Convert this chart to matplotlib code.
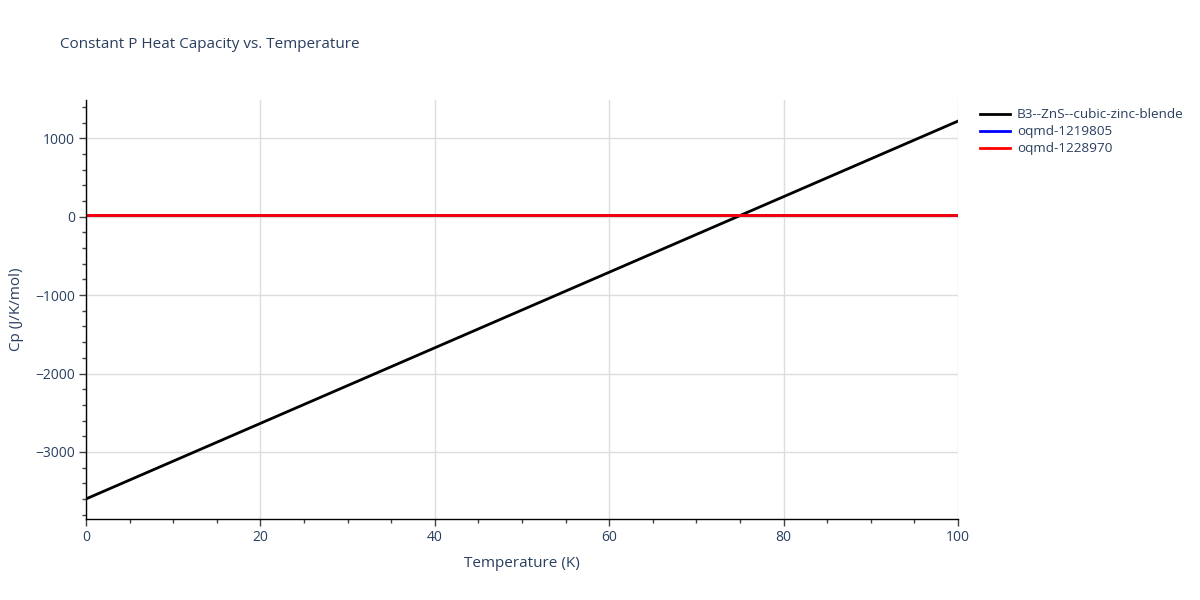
import matplotlib
matplotlib.use('Agg')
import matplotlib.pyplot as plt
from matplotlib.ticker import MultipleLocator

# values
temps = [0, 20, 40, 60, 80, 100]
cp_zns = [-3600, -2636, -1672, -708, 256, 1220]
cp_1219805 = [25, 25, 25, 25, 25, 25]
cp_1228970 = [25, 25, 25, 25, 25, 25]

txt = '#2a3f5f'
plt.rcParams['font.family'] = ['Open Sans', 'DejaVu Sans']

fig = plt.figure(figsize=(12, 6), dpi=100)
ax = fig.add_axes([86/1200, 1-519/600, (958-86)/1200, (519-100)/600])

ax.plot(temps, cp_zns, color='black', lw=2, label='B3--ZnS--cubic-zinc-blende')
ax.plot(temps, cp_1219805, color='blue', lw=2, label='oqmd-1219805')
ax.plot(temps, cp_1228970, color='red', lw=2, label='oqmd-1228970')

ax.set_xlim(0, 100)
ax.set_ylim(-3856, 1489)
ax.xaxis.set_major_locator(MultipleLocator(20))
ax.xaxis.set_minor_locator(MultipleLocator(5))
ax.yaxis.set_major_locator(MultipleLocator(1000))
ax.yaxis.set_minor_locator(MultipleLocator(200))
ax.yaxis.set_major_formatter(plt.FuncFormatter(lambda v, p: f'{int(v)}'.replace('-', '\u2212')))

ax.grid(True, which='major', color='#dddddd', lw=1)
ax.set_axisbelow(True)
for s in ['top', 'right']:
    ax.spines[s].set_visible(False)
for s in ['left', 'bottom']:
    ax.spines[s].set_color('black')
    ax.spines[s].set_linewidth(1)

ax.tick_params(which='major', length=5, width=1, color='#444444', labelsize=10, labelcolor=txt, pad=3)
ax.tick_params(which='minor', length=3, width=1, color='#444444')

ax.set_xlabel('Temperature (K)', fontsize=11, color=txt, labelpad=8)
ax.set_ylabel('Cp (J/K/mol)', fontsize=11, color=txt, labelpad=8)
fig.text(60/1200, 1-45/600, 'Constant P Heat Capacity vs. Temperature', fontsize=11, color=txt, va='center')

fig.legend(loc='upper left', bbox_to_anchor=(975/1200, 1-103/600), frameon=False,
           fontsize=9.7, labelcolor=txt, handlelength=2.2, handletextpad=0.5,
           labelspacing=0.3, borderaxespad=0)

fig.savefig('out.png', dpi=100)
